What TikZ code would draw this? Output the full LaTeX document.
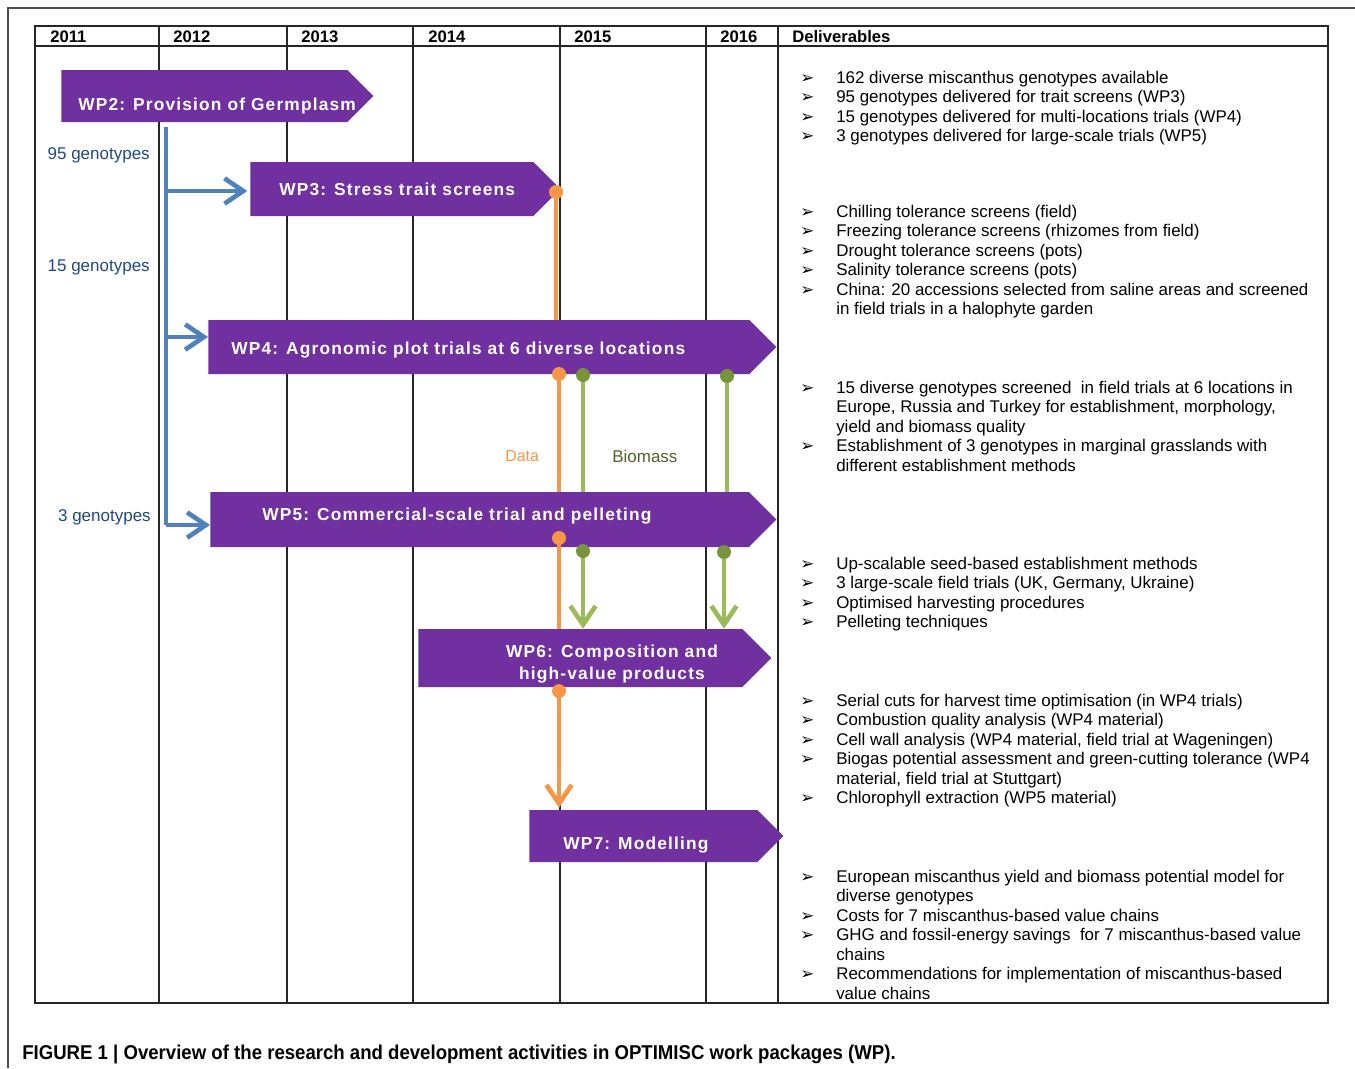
\documentclass[tikz,border=0pt]{standalone}
\usepackage{fontspec}
\setmainfont{Liberation Sans}
\newfontfamily\wpfont{Liberation Sans}[LetterSpace=6.8]
\newfontfamily\capfont{Liberation Sans}[FakeStretch=0.93]
\newfontfamily\dejavu{DejaVu Sans}
\usetikzlibrary{shapes.symbols,arrows.meta}
\definecolor{wppurple}{HTML}{7030A0}
\definecolor{bluel}{HTML}{4F81BD}
\definecolor{bluetxt}{HTML}{1F497D}
\definecolor{orangel}{HTML}{F79646}
\definecolor{greenl}{HTML}{9BBB59}
\definecolor{greendot}{HTML}{77933C}
\definecolor{biotxt}{HTML}{4F6228}
\newcommand\bul{{\dejavu\fontsize{12.5pt}{12pt}\selectfont ➢}}
\newcommand\delfont{\fontsize{12.7pt}{14.625pt}\selectfont}
\begin{document}
\begin{tikzpicture}[x=0.75pt,y=-0.75pt,
  framel/.style={draw=black!70,line width=0.8pt},
  tabline/.style={draw=black!85,line width=1pt},
  hdr/.style={anchor=base west,inner sep=0pt,font=\bfseries\fontsize{12.5pt}{14pt}\selectfont},
  wpbar/.style={shape=signal,signal to=east,signal pointer angle=90,fill=wppurple,draw=none,inner sep=0pt,anchor=west},
  wptext/.style={anchor=base west,inner sep=0pt,text=white,font=\wpfont\bfseries\fontsize{13pt}{15pt}\selectfont},
  geno/.style={anchor=base east,inner sep=0pt,text=bluetxt,font=\fontsize{12.75pt}{14pt}\selectfont},
  bline/.style={draw=bluel,line width=3.5pt,line join=round},
  barb/.style={-{Straight Barb[length=14pt,width=19pt]}},
  oline/.style={draw=orangel,line width=3.5pt},
  gline/.style={draw=greenl,line width=3.5pt},
  odot/.style={fill=orangel},
  gdot/.style={fill=greendot},
  deliv/.style={anchor=base west,inner sep=0pt,font=\delfont},
]
\useasboundingbox (0,0) rectangle (1355,1068);
% outer frame
\draw[framel] (8,1068) -- (8,8) -- (1355,8);
% table
\draw[tabline] (35,26) rectangle (1328,1003);
\draw[tabline] (35,46) -- (1328,46);
\foreach \xx in {159,287,413,560,706,778} \draw[tabline] (\xx,26) -- (\xx,1003);
% header
\node[hdr] (h1) at (50,42.5) {2011};
\node[hdr] (h2) at (173,42.5) {2012};
\node[hdr] (h3) at (301,42.5) {2013};
\node[hdr] (h4) at (428,42.5) {2014};
\node[hdr] (h5) at (574,42.5) {2015};
\node[hdr] (h6) at (720,42.5) {2016};
\node[hdr] (h7) at (792,42.5) {Deliverables};
% bars
\node[wpbar,minimum width=234pt,minimum height=39pt] (wp2) at (61,96) {};
\node[wpbar,minimum width=232.5pt,minimum height=40.5pt] (wp3) at (250,189) {};
\node[wpbar,minimum width=426pt,minimum height=40.5pt] (wp4) at (208,347) {};
\node[wpbar,minimum width=424.5pt,minimum height=41.25pt] (wp5) at (210,519.5) {};
\node[wpbar,minimum width=264.75pt,minimum height=43.5pt] (wp6) at (418,658) {};
\node[wpbar,minimum width=190.5pt,minimum height=39pt] (wp7) at (529,836) {};
% bar texts
\node[wptext] (t2) at (78,110.5) {WP2: Provision of Germplasm};
\node[wptext] (t3) at (279,195) {WP3: Stress trait screens};
\node[wptext] (t4) at (231,354) {WP4: Agronomic plot trials at 6 diverse locations};
\node[wptext] (t5) at (262,520) {WP5: Commercial-scale trial and pelleting};
\node[wptext,anchor=base] (t6a) at (612,657.3) {WP6: Composition and};
\node[wptext,anchor=base] (t6b) at (612,679.3) {high-value products};
\node[wptext] (t7) at (563,849) {WP7: Modelling};
% blue distribution
\coordinate (btop) at (166,127);
\coordinate (b3) at (166,191);
\coordinate (b4) at (166,337);
\coordinate (b5) at (166,525);
\draw[bline] (btop) -- (b5);
\draw[bline,barb] (b5) -- (b5 -| wp5.west);
\draw[bline,barb] (b3) -- ([xshift=-2pt]b3 -| wp3.west);
\draw[bline,barb] (b4) -- (b4 -| wp4.west);
\node[geno] (g95) at (150,159) {95 genotypes};
\node[geno] (g15) at (150,271.7) {15 genotypes};
\node[geno] (g3) at (151,521) {3 genotypes};
% orange data flow
\coordinate (o3) at (556,192);
\coordinate (o4) at (559,374);
\coordinate (o5) at (559,538);
\coordinate (o6) at (559,691);
\draw[oline] (o3) -- (o3 |- wp4.north);
\draw[oline] (o4) -- (o4 |- wp5.north);
\draw[oline] (o5) -- (o5 |- wp6.north);
\draw[oline,barb] (o6) -- ([yshift=1.5pt]o6 |- wp7.north);
% green biomass flow
\coordinate (g4a) at (583,375);
\coordinate (g4b) at (727,376);
\coordinate (g5a) at (583,551);
\coordinate (g5b) at (724,552);
\draw[gline] (g4a) -- (g4a |- wp5.north);
\draw[gline] (g4b) -- (g4b |- wp5.north);
\draw[gline,barb] (g5a) -- (g5a |- wp6.north);
\draw[gline,barb] (g5b) -- (g5b |- wp6.north);
% dots
\foreach \p in {o3,o4,o5,o6} \fill[odot] (\p) circle[radius=5.25pt];
\foreach \p in {g4a,g4b,g5a,g5b} \fill[gdot] (\p) circle[radius=5.25pt];
\node[anchor=base west,inner sep=0pt,text=orangel,font=\fontsize{12pt}{14pt}\selectfont] (data) at (505,461) {Data};
\node[anchor=base west,inner sep=0pt,text=biotxt,font=\fontsize{12.75pt}{14pt}\selectfont] (bio) at (612,462) {Biomass};
% deliverables
\node[deliv] (d1) at (800,83) {\delfont\begin{tabular}[t]{@{}p{27pt}@{}l@{}}
\bul & 162 diverse miscanthus genotypes available\\
\bul & 95 genotypes delivered for trait screens (WP3)\\
\bul & 15 genotypes delivered for multi-locations trials (WP4)\\
\bul & 3 genotypes delivered for large-scale trials (WP5)
\end{tabular}};
\node[deliv] (d2) at (800,217) {\delfont\begin{tabular}[t]{@{}p{27pt}@{}l@{}}
\bul & Chilling tolerance screens (field)\\
\bul & Freezing tolerance screens (rhizomes from field)\\
\bul & Drought tolerance screens (pots)\\
\bul & Salinity tolerance screens (pots)\\
\bul & China: 20 accessions selected from saline areas and screened\\
 & in field trials in a halophyte garden
\end{tabular}};
\node[deliv] (d3) at (800,393) {\delfont\begin{tabular}[t]{@{}p{27pt}@{}l@{}}
\bul & 15 diverse genotypes screened\ \ in field trials at 6 locations in\\
 & Europe, Russia and Turkey for establishment, morphology,\\
 & yield and biomass quality\\
\bul & Establishment of 3 genotypes in marginal grasslands with\\
 & different establishment methods
\end{tabular}};
\node[deliv] (d4) at (800,569) {\delfont\begin{tabular}[t]{@{}p{27pt}@{}l@{}}
\bul & Up-scalable seed-based establishment methods\\
\bul & 3 large-scale field trials (UK, Germany, Ukraine)\\
\bul & Optimised harvesting procedures\\
\bul & Pelleting techniques
\end{tabular}};
\node[deliv] (d5) at (800,706) {\delfont\begin{tabular}[t]{@{}p{27pt}@{}l@{}}
\bul & Serial cuts for harvest time optimisation (in WP4 trials)\\
\bul & Combustion quality analysis (WP4 material)\\
\bul & Cell wall analysis (WP4 material, field trial at Wageningen)\\
\bul & Biogas potential assessment and green-cutting tolerance (WP4\\
 & material, field trial at Stuttgart)\\
\bul & Chlorophyll extraction (WP5 material)
\end{tabular}};
\node[deliv] (d6) at (800,882) {\delfont\begin{tabular}[t]{@{}p{27pt}@{}l@{}}
\bul & European miscanthus yield and biomass potential model for\\
 & diverse genotypes\\
\bul & Costs for 7 miscanthus-based value chains\\
\bul & GHG and fossil-energy savings\ \ for 7 miscanthus-based value\\
 & chains\\
\bul & Recommendations for implementation of miscanthus-based\\
 & value chains
\end{tabular}};
% caption
\node[anchor=base west,inner sep=0pt,font=\capfont\bfseries\fontsize{15pt}{17pt}\selectfont] (cap) at (22,1059) {FIGURE 1 | Overview of the research and development activities in OPTIMISC work packages (WP).};
\end{tikzpicture}
\end{document}
